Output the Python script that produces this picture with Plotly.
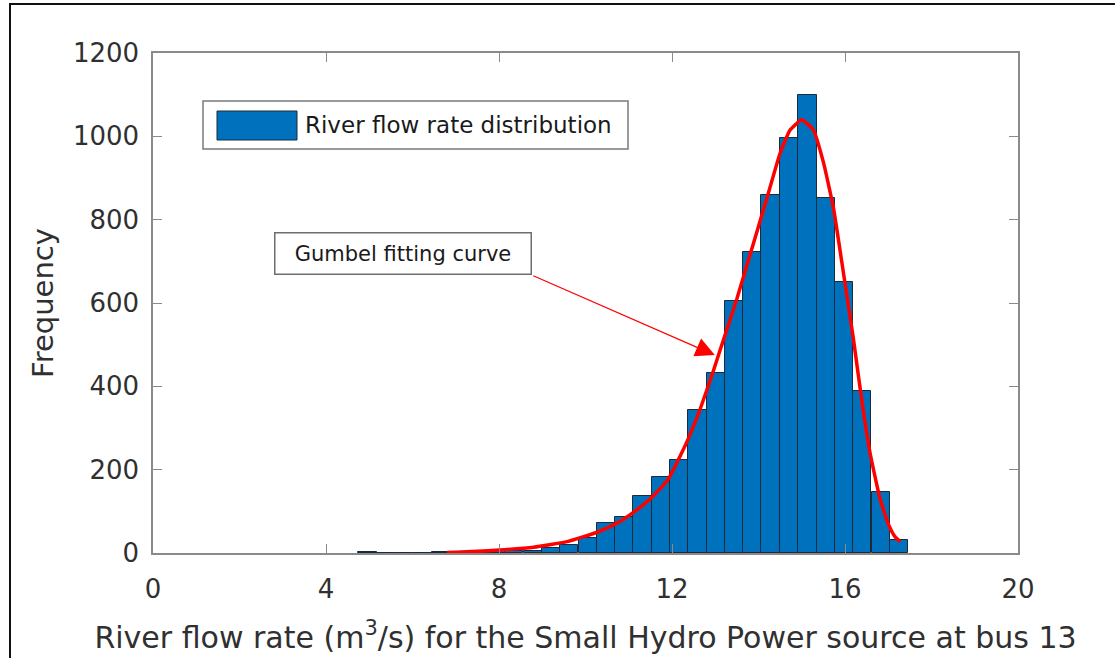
import plotly.graph_objects as go

# ---------------- data ----------------
bin_centers = [4.96, 5.39, 5.81, 6.23, 6.66, 7.08, 7.50, 7.93, 8.35, 8.78,
               9.20, 9.62, 10.05, 10.47, 10.89, 11.32, 11.74, 12.17, 12.59, 13.01,
               13.44, 13.86, 14.28, 14.71, 15.13, 15.56, 15.98, 16.40, 16.83, 17.25]
counts = [2, 0, 0, 1, 2, 2, 3, 4, 5, 6,
          11, 19, 35, 73, 86, 138, 183, 223, 343, 431,
          606, 723, 859, 995, 1099, 851, 651, 390, 147, 31]

curve_x = [6.8, 7.0, 7.5, 8.0, 8.8, 9.6, 10.3, 10.7, 11.1, 11.5, 11.9, 12.2,
           12.4, 12.65, 12.95, 13.2, 13.5, 13.96, 14.19, 14.5, 14.73, 15.0, 15.27,
           15.5, 15.73, 15.96, 16.19, 16.39, 16.58, 16.81, 17.0, 17.15, 17.28]
curve_y = [1, 2, 4, 7, 14, 28, 51, 70, 97, 130, 175, 235,
           280, 345, 435, 515, 610, 770, 850, 960, 1015, 1040, 1015,
           938, 830, 675, 517, 365, 240, 130, 70, 40, 27]

x_ticks = [0, 4, 8, 12, 16, 20]
y_ticks = [0, 200, 400, 600, 800, 1000, 1200]

legend_label = "River flow rate distribution"
curve_label = "Gumbel fitting curve"
x_title = "River flow rate (m<sup>3</sup>/s) for the Small Hydro Power source at bus 13"
y_title = "Frequency"

# ---------------- styling ----------------
FONT = "DejaVu Sans"
BAR_BLUE = "#0072BD"
AXIS_GRAY = "#8a8a8a"
TEXT_COL = "#303030"
BIN_WIDTH = 0.4238

W, H = 1115, 658
L, R, T, B = 153, 97, 53, 105
PW, PH = W - L - R, H - T - B


def px_x(p):
    return (p - L) / PW


def px_y(p):
    return (H - B - p) / PH


fig = go.Figure()
fig.add_trace(go.Bar(
    x=bin_centers, y=counts, width=BIN_WIDTH,
    marker=dict(color=BAR_BLUE, line=dict(color="#1c2a3a", width=1)),
    name=legend_label, showlegend=False,
))
fig.add_trace(go.Scatter(
    x=curve_x, y=curve_y, mode="lines",
    line=dict(color="#ff0000", width=3.5, shape="spline", smoothing=0.4),
    name=curve_label, showlegend=False,
))

axis_common = dict(
    showline=True, linecolor=AXIS_GRAY, linewidth=1.5, mirror="ticks",
    ticks="inside", ticklen=9, tickwidth=1.3, tickcolor=AXIS_GRAY,
    showgrid=False, zeroline=False,
    tickfont=dict(family=FONT, size=26, color=TEXT_COL),
)

fig.update_xaxes(
    range=[0, 20], tickmode="array", tickvals=x_ticks,
    ticktext=[str(v) for v in x_ticks], ticklabelstandoff=12,
    title=dict(text=x_title, font=dict(family=FONT, size=30, color=TEXT_COL), standoff=24),
    **axis_common,
)
fig.update_yaxes(
    range=[0, 1200], tickmode="array", tickvals=y_ticks,
    ticktext=[str(v) for v in y_ticks], ticklabelstandoff=7,
    title=dict(text=y_title, font=dict(family=FONT, size=29, color=TEXT_COL), standoff=11),
    **axis_common,
)

shapes = [
    # outer figure frame (right and bottom edges fall outside the picture)
    dict(type="rect", xref="paper", yref="paper",
         x0=px_x(10), x1=px_x(1125), y0=px_y(700), y1=px_y(4),
         line=dict(color="#111111", width=2), fillcolor="rgba(0,0,0,0)", layer="above"),
    # legend box
    dict(type="rect", xref="paper", yref="paper",
         x0=px_x(203), x1=px_x(628), y0=px_y(149), y1=px_y(101),
         line=dict(color="#7a7a7a", width=1.5), fillcolor="white", layer="above"),
    # legend patch
    dict(type="rect", xref="paper", yref="paper",
         x0=px_x(217), x1=px_x(297), y0=px_y(140), y1=px_y(111),
         line=dict(color="#1c2a3a", width=1), fillcolor=BAR_BLUE, layer="above"),
]

annotations = [
    dict(xref="paper", yref="paper", x=px_x(303), y=px_y(125),
         xanchor="left", yanchor="middle", showarrow=False,
         text=legend_label, font=dict(family=FONT, size=23, color="#1a1a1a")),
    # text box for the fitting curve label
    dict(xref="paper", yref="paper", x=px_x(402.5), y=px_y(253.5),
         xanchor="center", yanchor="middle", showarrow=False,
         text=curve_label, font=dict(family=FONT, size=21, color="#1a1a1a"),
         bordercolor="#6e6e6e", borderwidth=1.5, borderpad=0,
         bgcolor="white", width=255, height=40),
    # arrow from the label box to the curve
    dict(x=12.99, y=475, xref="x", yref="y", text="", showarrow=True,
         ax=532 - 715, ay=275 - 355, axref="pixel", ayref="pixel",
         arrowhead=2, arrowsize=3.2, arrowwidth=1.2, arrowcolor="#ff0000",
         standoff=0, startstandoff=0),
]

fig.update_layout(
    width=W, height=H,
    margin=dict(l=L, r=R, t=T, b=B, autoexpand=False),
    paper_bgcolor="white", plot_bgcolor="white",
    shapes=shapes, annotations=annotations,
    bargap=0, showlegend=False,
    font=dict(family=FONT, color=TEXT_COL),
)

fig.write_html("out.html")
